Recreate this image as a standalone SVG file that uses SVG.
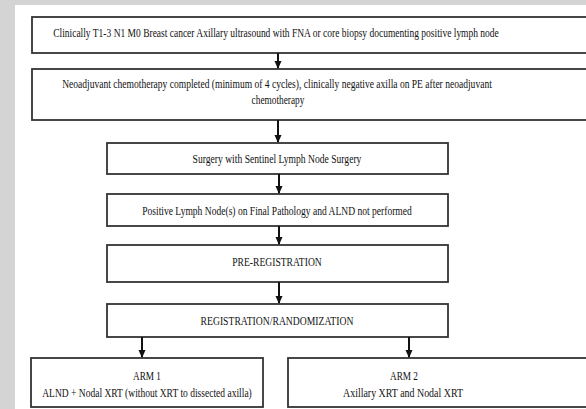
<svg xmlns="http://www.w3.org/2000/svg" width="586" height="409" viewBox="0 0 586 409">
<style>
.box{fill:#fff;stroke:#333;stroke-width:1.8}
.t{font-family:"Liberation Serif","Times New Roman",serif;font-size:13px;fill:#111;text-anchor:middle}
.c{stroke:#111;stroke-width:2;fill:none}
</style>
<defs>
<marker id="ah" viewBox="0 0 8 8" refX="7" refY="4" markerWidth="8" markerHeight="8" markerUnits="userSpaceOnUse" orient="auto">
<path d="M0,0.5 L8,4 L0,7.5 Z" fill="#111"/>
</marker>
</defs>
<rect x="0" y="0" width="586" height="409" fill="#d4d4d4"/>
<rect x="15" y="5" width="571" height="404" fill="#fff"/>
<g id="n1"><rect class="box" x="32" y="17" width="556" height="36"/>
<text class="t" transform="translate(276,37) scale(0.8,1)" textLength="557" lengthAdjust="spacingAndGlyphs">Clinically T1-3 N1 M0 Breast cancer Axillary ultrasound with FNA or core biopsy documenting positive lymph node</text></g>
<g id="n2"><rect class="box" x="32" y="69" width="556" height="51"/>
<text class="t" transform="translate(277,88) scale(0.8,1)" textLength="537" lengthAdjust="spacingAndGlyphs">Neoadjuvant chemotherapy completed (minimum of 4 cycles), clinically negative axilla on PE after neoadjuvant</text>
<text class="t" transform="translate(278,104) scale(0.8,1)" textLength="66" lengthAdjust="spacingAndGlyphs">chemotherapy</text></g>
<g id="n3"><rect class="box" x="107" y="143" width="341" height="31"/>
<text class="t" transform="translate(277,163) scale(0.8,1)" textLength="211" lengthAdjust="spacingAndGlyphs">Surgery with Sentinel Lymph Node Surgery</text></g>
<g id="n4"><rect class="box" x="107" y="194" width="341" height="32"/>
<text class="t" transform="translate(277,215) scale(0.8,1)" textLength="337" lengthAdjust="spacingAndGlyphs">Positive Lymph Node(s) on Final Pathology and ALND not performed</text></g>
<g id="n5"><rect class="box" x="107" y="245" width="341" height="37"/>
<text class="t" transform="translate(277,266) scale(0.8,1)" textLength="112" lengthAdjust="spacingAndGlyphs">PRE-REGISTRATION</text></g>
<g id="n6"><rect class="box" x="107" y="304" width="341" height="33"/>
<text class="t" transform="translate(277,325) scale(0.8,1)" textLength="191" lengthAdjust="spacingAndGlyphs">REGISTRATION/RANDOMIZATION</text></g>
<g id="n7"><rect class="box" x="31" y="358" width="232" height="49"/>
<text class="t" transform="translate(147,380) scale(0.8,1)" textLength="35" lengthAdjust="spacingAndGlyphs">ARM 1</text>
<text class="t" transform="translate(147,397) scale(0.8,1)" textLength="262" lengthAdjust="spacingAndGlyphs">ALND + Nodal XRT (without XRT to dissected axilla)</text></g>
<g id="n8"><rect class="box" x="288" y="358" width="300" height="49"/>
<text class="t" transform="translate(404,380) scale(0.8,1)" textLength="35" lengthAdjust="spacingAndGlyphs">ARM 2</text>
<text class="t" transform="translate(403,397) scale(0.8,1)" textLength="150" lengthAdjust="spacingAndGlyphs">Axillary XRT and Nodal XRT</text></g>
<g id="connectors">
<line class="c" x1="278" y1="53" x2="278" y2="68" marker-end="url(#ah)"/>
<line class="c" x1="278" y1="120" x2="278" y2="142" marker-end="url(#ah)"/>
<line class="c" x1="279" y1="174" x2="279" y2="193" marker-end="url(#ah)"/>
<line class="c" x1="279" y1="226" x2="279" y2="244" marker-end="url(#ah)"/>
<line class="c" x1="279" y1="282" x2="279" y2="303" marker-end="url(#ah)"/>
<line class="c" x1="142" y1="337" x2="142" y2="357" marker-end="url(#ah)"/>
<line class="c" x1="409" y1="337" x2="409" y2="357" marker-end="url(#ah)"/>
</g>
</svg>
